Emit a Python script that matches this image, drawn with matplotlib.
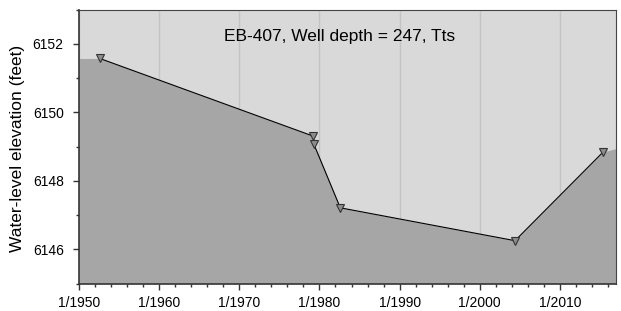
import matplotlib
matplotlib.use("Agg")
import matplotlib.pyplot as plt
import numpy as np

plt.rcParams['font.family'] = ['Liberation Sans', 'DejaVu Sans']

years = [1952.6, 1979.25, 1979.3, 1982.6, 2004.4, 2015.4]
elev = [6151.57, 6149.30, 6149.07, 6147.21, 6146.25, 6148.84]
xticks = [1950, 1960, 1970, 1980, 1990, 2000, 2010]
xticklabels = ["1/1950", "1/1960", "1/1970", "1/1980", "1/1990", "1/2000", "1/2010"]
yticks = [6146, 6148, 6150, 6152]
title = "EB-407, Well depth = 247, Tts"

xmin, xmax = 1950, 2017
ymin, ymax = 6145, 6153

fig = plt.figure(figsize=(6.21, 3.11), dpi=100)
ax = fig.add_axes([79/621, 1-283.5/311, (616-79)/621, (283.5-9.5)/311])
ax.set_facecolor("#d9d9d9")
ax.set_xlim(xmin, xmax)
ax.set_ylim(ymin, ymax)

fx = [xmin] + years + [xmax]
fy = [elev[0]] + elev + [elev[-1] + 0.1]
ax.fill_between(fx, ymin, fy, color="#a6a6a6", lw=0, zorder=1)

for x in xticks:
    ax.axvline(x, color="#c4c4c4", lw=1, zorder=0.5)

ax.plot(years, elev, color="black", lw=0.8, zorder=3)
ax.plot(years, elev, ls="none", marker="v", ms=5.5, mfc="#8c8c8c", mec="#333333", mew=0.8, zorder=4)

ax.set_xticks(xticks)
ax.set_xticklabels(xticklabels, fontsize=10)
ax.set_xticks(np.arange(1952, 2017, 2), minor=True)
ax.set_yticks(yticks)
ax.set_yticklabels([str(v) for v in yticks], fontsize=10)
ax.set_yticks(np.arange(6145, 6154, 1), minor=True)
ax.tick_params(axis="both", which="major", length=4, width=1, direction="out", color="#333333")
ax.tick_params(axis="x", which="major", pad=5)
ax.tick_params(axis="y", which="major", pad=7)
ax.tick_params(axis="both", which="minor", length=2.5, width=1, direction="out", color="#333333")

for s in ["left", "bottom"]:
    ax.spines[s].set_linewidth(1.2)
    ax.spines[s].set_color("#333333")
for s in ["top", "right"]:
    ax.spines[s].set_linewidth(0.8)
    ax.spines[s].set_color("#444444")

ax.set_ylabel("Water-level elevation (feet)", fontsize=12.5)
ax.yaxis.set_label_coords((25 - 79) / 537, (283.5 - 148) / 274)
ax.text((340 - 79) / 537, (283.5 - 36) / 274, title, transform=ax.transAxes,
        ha="center", va="center", fontsize=12.5)

fig.savefig("out.png", dpi=100)
